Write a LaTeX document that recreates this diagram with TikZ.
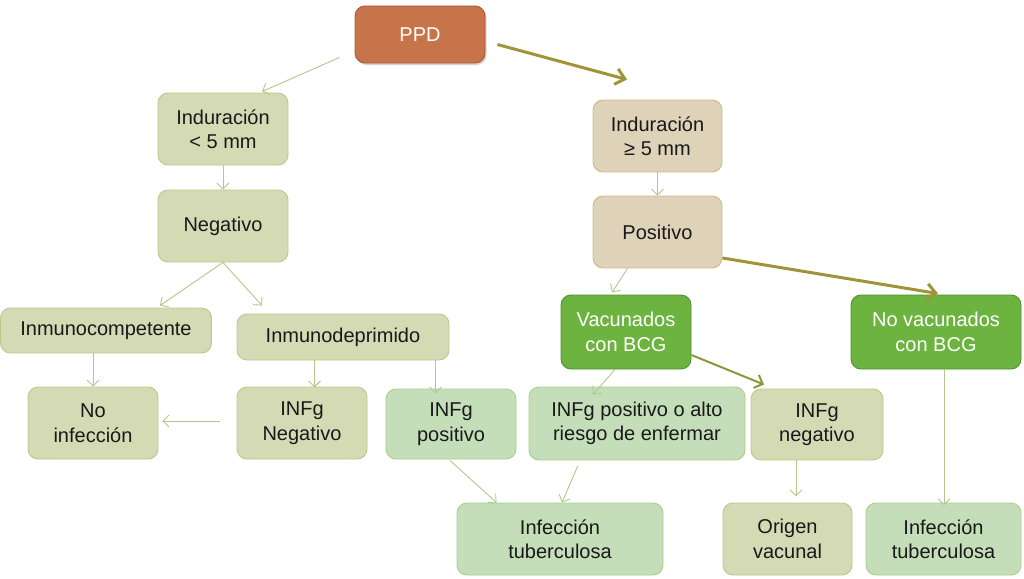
\documentclass[tikz,border=0pt]{standalone}
\usepackage{fontspec}
\setmainfont{Liberation Sans}
\usetikzlibrary{arrows.meta,calc,shadows}
\definecolor{thinln}{RGB}{178,200,138}
\definecolor{oliveln}{RGB}{160,148,56}
\definecolor{midln}{RGB}{140,152,58}
\definecolor{ppdfill}{RGB}{200,116,74}
\definecolor{ppddraw}{RGB}{170,90,50}
\definecolor{olfill}{RGB}{212,219,180}
\definecolor{oldraw}{RGB}{186,200,138}
\definecolor{grfill}{RGB}{196,222,185}
\definecolor{grdraw}{RGB}{168,206,140}
\definecolor{tanfill}{RGB}{222,210,184}
\definecolor{tandraw}{RGB}{205,186,140}
\definecolor{vacfill}{RGB}{108,179,63}
\definecolor{vacdraw}{RGB}{80,145,45}
\definecolor{txt}{RGB}{25,25,25}
\tikzset{
  box/.style={rounded corners=10pt, line width=0.9pt, align=center, text=txt,
    font=\fontsize{20}{24.5}\selectfont, inner sep=2pt},
  olbox/.style={box, fill=olfill, draw=oldraw},
  grbox/.style={box, fill=grfill, draw=grdraw},
  tanbox/.style={box, fill=tanfill, draw=tandraw},
  vacbox/.style={box, fill=vacfill, draw=vacdraw, text=white},
  ppdbox/.style={box, fill=ppdfill, draw=ppddraw, text=white,
    drop shadow={shadow xshift=1.5pt, shadow yshift=-2pt, opacity=0.35}},
  thin/.style={draw=thinln, line width=0.9pt, -{Straight Barb[length=6pt,width=12pt]}},
  thick/.style={draw=oliveln, line width=3pt, -{Straight Barb[length=9pt,width=16pt]}},
  mid/.style={draw=midln, line width=2pt, -{Straight Barb[length=7pt,width=14pt]}},
}
\begin{document}
\begin{tikzpicture}[x=1pt,y=-1pt]
\useasboundingbox (0,0) rectangle (1024,578);
% nodes
\node[ppdbox, minimum width=130pt, minimum height=57pt] (ppd) at (420,34.5) {PPD};
\node[olbox, minimum width=130pt, minimum height=72pt] (ind1) at (223,129) {Induración\\< 5 mm};
\node[olbox, minimum width=130pt, minimum height=72pt] (neg) at (223,226) {Negativo};
\node[olbox, minimum width=211pt, minimum height=45pt] (icomp) at (106,330.5) {Inmunocompetente};
\node[olbox, minimum width=212pt, minimum height=46pt] (idep) at (343,337) {Inmunodeprimido};
\node[olbox, minimum width=130pt, minimum height=72pt] (noinf) at (93,423) {No\\infección};
\node[olbox, minimum width=130pt, minimum height=72pt] (infgneg) at (302,423) {INFg\\Negativo};
\node[grbox, minimum width=130pt, minimum height=70pt] (infgpos) at (451,424) {INFg\\positivo};
\node[grbox, minimum width=216pt, minimum height=73pt] (infgalto) at (637,423.5) {INFg positivo o alto\\riesgo de enfermar};
\node[olbox, minimum width=132pt, minimum height=71pt] (infgneg2) at (817,424.5) {INFg\\negativo};
\node[grbox, minimum width=206pt, minimum height=72pt] (inftub1) at (560,539) {Infección\\tuberculosa};
\node[olbox, minimum width=129pt, minimum height=72pt] (origen) at (787.5,539) {Origen\\vacunal};
\node[grbox, minimum width=155pt, minimum height=72pt] (inftub2) at (943.5,539) {Infección\\tuberculosa};
\node[tanbox, minimum width=129pt, minimum height=72pt] (ind2) at (657.5,136) {Induración\\≥ 5 mm};
\node[tanbox, minimum width=129pt, minimum height=72pt] (pos) at (657.5,232) {Positivo};
\node[vacbox, minimum width=130pt, minimum height=74pt] (vac) at (626,332) {Vacunados\\con BCG};
\node[vacbox, minimum width=170pt, minimum height=74pt] (novac) at (936,332) {No vacunados\\con BCG};
% connectors
\draw[thin] ($(ppd.south west)+(-15,-6)$) -- ($(ind1.north)+(39,-1)$);
\draw[thick] ($(ppd.east)+(12,10)$) -- ($(ind2.north)+(-30.5,-20)$);
\draw[thin] (ind1) -- (neg);
\draw[thin] (neg.south) -- ($(icomp.north)+(54,-2)$);
\draw[thin] (neg.south) -- ($(idep.north)+(-81,-8)$);
\draw[thin] (noinf.north |- icomp.south) -- (noinf.north);
\draw[thin] ($(idep.south west)+(78,0)$) -- ++(0,27);
\draw[thin] ($(idep.south east)+(-14,0)$) -- ++(0,33);
\draw[thin] ($(infgneg.west)+(-17,-2)$) -- ($(noinf.east)+(4,-2)$);
\draw[thin] ($(infgpos.south)+(-1,1)$) -- ($(inftub1.north west)+(40,0)$);
\draw[thin] ($(infgalto.south)+(-59,5)$) -- ($(inftub1.north)+(2,0)$);
\draw[thin] (ind2) -- (pos);
\draw[thin] ($(pos.south)+(-30,0)$) -- ($(vac.north)+(-14,-2)$);
\draw[thick] ($(pos.east)+(0,26)$) -- ($(novac.north)+(2,-1)$);
\draw[thin] ($(vac.south)+(-11,0)$) -- ($(infgalto.north)+(-44,8)$);
\draw[mid] ($(vac.east)+(0,23)$) -- ($(infgneg2.north)+(-53,-4)$);
\draw[thin] ($(infgneg2.south)+(-21,0)$) -- ++(0,36);
\draw[thin] ($(novac.south)+(8,0)$) -- ++(0,136);
\end{tikzpicture}
\end{document}
